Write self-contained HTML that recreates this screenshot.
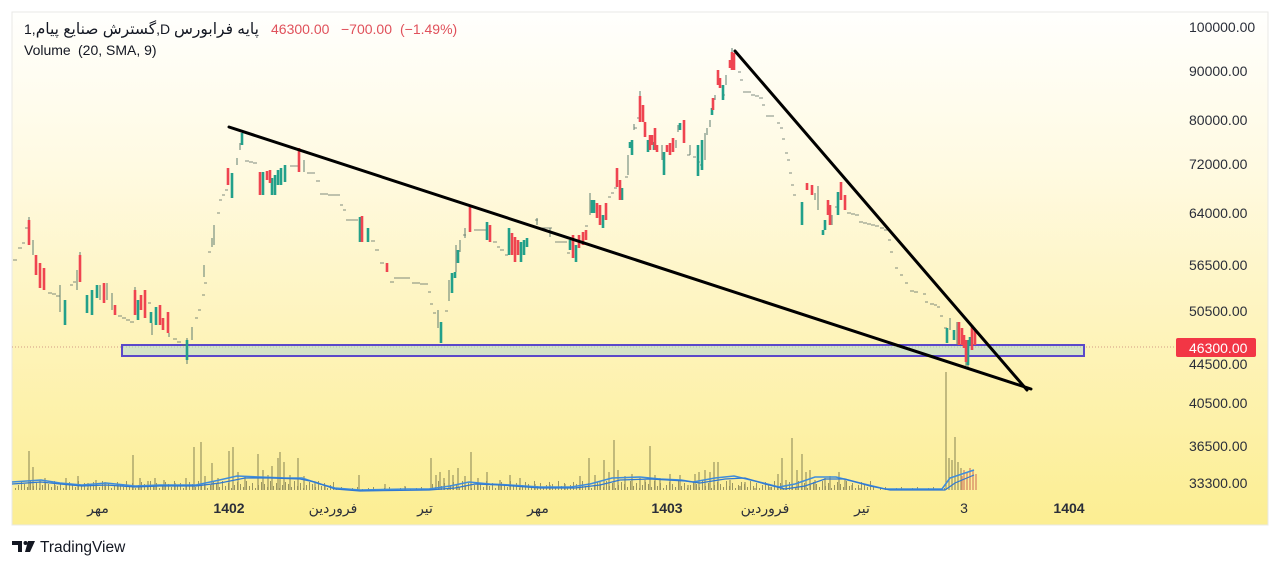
<!DOCTYPE html>
<html>
<head>
<meta charset="utf-8">
<style>
html,body{margin:0;padding:0;background:#ffffff;}
body{width:1280px;height:567px;overflow:hidden;position:relative;}
svg{position:absolute;left:0;top:0;}
text{font-family:"Liberation Sans","DejaVu Sans",sans-serif;}
</style>
</head>
<body>
<svg width="1280" height="567" viewBox="0 0 1280 567" xmlns="http://www.w3.org/2000/svg">
<defs>
<linearGradient id="bg" x1="0" y1="0" x2="0" y2="1">
<stop offset="0" stop-color="#fffffd"/>
<stop offset="0.3" stop-color="#fffae2"/>
<stop offset="0.6" stop-color="#fef4be"/>
<stop offset="1" stop-color="#fcee92"/>
</linearGradient>
<pattern id="vol" x="0" y="476" width="24" height="14" patternUnits="userSpaceOnUse">
<path d="M0.5 14V8 M3.5 14V11 M6.5 14V5 M9.5 14V10 M12.5 14V7 M15.5 14V12 M18.5 14V9 M21.5 14V6" stroke="#9a9560" stroke-width="1"/>
</pattern>
<pattern id="vol2" x="0" y="484" width="16" height="6" patternUnits="userSpaceOnUse">
<path d="M0.5 6V4 M5.5 6V3 M10.5 6V5" stroke="#9a9560" stroke-width="1"/>
</pattern>
</defs>

<!-- panel -->
<rect x="12" y="12" width="1256" height="513" fill="url(#bg)" stroke="#e8e8e6" stroke-width="1"/>

<!-- header -->
<text x="24" y="34" font-size="14" fill="#131722">1,<tspan font-size="15.5">گسترش صنایع پیام</tspan>,D <tspan font-size="15.5">پایه فرابورس</tspan></text>
<text x="271" y="34" font-size="14" fill="#e0515b">46300.00</text>
<text x="341" y="34" font-size="14" fill="#e0515b">−700.00</text>
<text x="400" y="34" font-size="14" fill="#e0515b">(−1.49%)</text>
<text x="24" y="55" font-size="14" fill="#131722">Volume</text>
<text x="78" y="55" font-size="14" fill="#131722">(20, SMA, 9)</text>

<!-- price line dotted -->
<line x1="12" y1="347" x2="1176" y2="347" stroke="#c98676" stroke-width="1" stroke-dasharray="1 2" opacity="0.8"/>

<!-- zone rectangle -->
<rect x="122" y="345" width="962" height="11" fill="#cfe1c9" fill-opacity="0.9" stroke="#5b48c9" stroke-width="2"/>
<line x1="123" y1="347" x2="1083" y2="347" stroke="#a9b8a0" stroke-width="1" stroke-dasharray="1 2" opacity="0.7"/>

<!-- volume filler -->
<rect x="14" y="476" width="320" height="14" fill="url(#vol)"/>
<rect x="430" y="476" width="445" height="14" fill="url(#vol)"/>
<rect x="334" y="484" width="96" height="6" fill="url(#vol2)"/>
<rect x="875" y="484" width="70" height="6" fill="url(#vol2)"/>

<!-- volume spikes -->
<path stroke="#9a9560" stroke-width="1.2" fill="none" d="M29 490V451 M33 490V467 M40 490V480 M45 490V478 M55 490V485 M66 490V478 M78 490V476 M88 490V483 M96 490V480 M105 490V482 M118 490V485 M133 490V455 M140 490V478 M148 490V481 M155 490V478 M164 490V480 M175 490V483 M186 490V478 M194 490V447 M201 490V442 M205 490V476 M212 490V463 M218 490V478 M229 490V451 M233 490V447 M238 490V472 M245 490V476 M258 490V454 M263 490V470 M268 490V475 M272 490V466 M278 490V458 M280 490V452 M284 490V462 M290 490V475 M298 490V458 M304 490V476 M315 490V482 M325 490V485 M359 490V475 M385 490V484 M405 490V486 M431 490V458 M436 490V475 M440 490V472 M444 490V478 M449 490V470 M453 490V475 M458 490V468 M465 490V476 M471 490V452 M478 490V478 M487 490V472 M500 490V480 M510 490V475 M520 490V478 M535 490V484 M550 490V485 M565 490V484 M580 490V476 M589 490V458 M595 490V475 M600 490V482 M604 490V460 M609 490V472 M614 490V440 M618 490V470 M625 490V476 M632 490V474 M640 490V478 M645 490V480 M650 490V446 M655 490V475 M660 490V478 M670 490V474 M680 490V475 M688 490V485 M695 490V474 M699 490V472 M705 490V470 M710 490V472 M714 490V462 M718 490V462 M730 490V480 M740 490V486 M745 490V482 M755 490V488 M770 490V487 M778 490V474 M782 490V458 M786 490V480 M792 490V438 M797 490V470 M802 490V454 M806 490V472 M810 490V470 M815 490V480 M825 490V478 M830 490V476 M839 490V472 M845 490V480 M852 490V485 M860 490V488 M946 490V372 M949 490V458 M952 490V460 M955 490V437 M958 490V462 M961 490V468"/>
<path stroke="#d98f68" stroke-width="1.4" fill="none" d="M962 490V476 M964 490V470 M967 490V472 M970 490V468 M973 490V470 M976 490V474"/>

<!-- volume MA -->
<polyline fill="none" stroke="#3f8ddb" stroke-width="1.6" points="12,482 41,480 60,483 82,485 106,483 135,486 160,485 196,485 215,481 237,476 260,477 286,478 302,478 320,484 335,488 360,490 408,489 429,489 450,486 469,482 490,484 510,485 540,487 571,487 590,484 612,478 640,477 660,479 681,480 693,482 715,478 734,476 755,481 779,487 795,484 815,477 836,477 860,483 885,489 942,489 950,478 974,470"/>
<polyline fill="none" stroke="#2f78d2" stroke-width="1.2" points="12,484 41,482 60,484 82,486 106,485 135,487 160,486 196,486 220,483 245,478 270,478 300,479 315,482 335,489 360,491 429,490 455,488 475,484 500,485 540,488 575,488 600,485 620,480 650,479 685,481 700,483 725,479 745,478 765,484 785,489 805,486 825,479 845,479 870,486 890,490 945,490 955,483 974,475"/>

<!-- dashes (doji ticks) -->
<path stroke="#5f6f66" stroke-width="1" fill="none" opacity="0.8" d="M13 260h4 M18 248h4 M22 243h3 M25 228h3 M48 293h4 M52 294h4 M56 296h4 M70 285h3 M73 282h3 M118 316h4 M122 318h4 M126 320h4 M130 322h4 M148 303h3 M173 339h4 M177 342h4 M182 345h4 M195 318h3 M198 310h3 M202 295h3 M204 283h3 M208 252h3 M217 213h3 M219 200h3 M222 195h3 M225 190h3 M245 161h4 M249 162h4 M253 163h4 M290 166h4 M294 166h4 M307 173h4 M311 173h4 M316 181h4 M320 194h4 M324 194h4 M328 195h4 M332 195h4 M336 195h4 M340 205h3 M343 210h3 M346 220h4 M350 220h4 M354 220h4 M371 241h4 M375 250h4 M380 263h4 M390 282h4 M394 278h4 M398 278h4 M402 278h4 M406 278h4 M412 283h4 M416 283h4 M420 284h4 M424 284h4 M428 292h3 M430 304h3 M433 313h3 M445 311h3 M463 235h3 M474 230h4 M478 230h4 M482 230h4 M493 242h4 M497 247h3 M500 250h4 M505 255h3 M535 220h3 M540 228h4 M544 228h4 M548 228h4 M555 242h4 M559 242h4 M563 242h4 M567 253h3 M585 226h3 M608 197h3 M611 193h3 M614 188h3 M625 177h3 M634 128h3 M637 118h3 M687 155h3 M693 157h3 M697 162h3 M700 165h3 M722 95h3 M729 63h3 M738 72h3 M740 80h3 M743 92h4 M747 92h4 M751 95h4 M755 96h4 M759 98h4 M762 105h3 M766 116h4 M770 116h4 M777 123h3 M780 128h3 M782 139h3 M785 153h3 M787 160h3 M789 173h3 M791 185h3 M793 195h3 M835 207h3 M847 213h4 M851 214h4 M855 215h4 M859 222h4 M863 223h4 M867 224h4 M871 225h4 M875 226h4 M880 228h4 M884 230h4 M888 240h3 M890 252h3 M895 268h3 M900 275h3 M905 283h3 M910 291h4 M914 292h4 M923 294h3 M925 302h3 M930 304h4 M934 305h3 M937 307h3 M940 316h3 M944 328h3"/>

<!-- wicks -->
<path stroke="#5f7d70" stroke-width="1" fill="none" d="M33 240V255 M60 285V312 M77 270V290 M100 285V300 M107 283V300 M112 293V310 M152 323V335 M187 338V364 M192 327V340 M204 265V277 M212 238V247 M214 225V245 M237 158V165 M240 143V150 M304 160V172 M438 310V328 M449 280V301 M460 240V252 M465 228V238 M537 218V225 M550 228V237 M590 193V215 M628 155V175 M634 124V130 M640 91V96 M662 145V160 M676 140V148 M678 125V132 M690 145V155 M705 133V160 M707 128V135 M710 120V127 M715 95V100 M726 75V85 M732 48V52 M815 193V200 M818 186V210 M832 215V225 M950 318V330 M957 322V345 M966 362V366 M968 365V368 M29 217V222 M80 252V256 M135 287V292 M169 333V337 M456 245V272"/>

<!-- green bodies -->
<path stroke="#22a08a" stroke-width="2.6" fill="none" d="M65 300V325 M87 295V313 M92 290V315 M97 285V298 M138 300V320 M151 312V323 M156 307V325 M187 340V360 M232 173V198 M242 133V145 M263 172V195 M272 178V195 M275 175V195 M278 170V185 M281 168V185 M285 165V182 M360 217V242 M368 228V242 M441 322V343 M452 273V293 M455 272V278 M458 250V263 M487 222V240 M509 228V255 M521 242V262 M524 240V255 M527 238V247 M570 240V250 M576 245V262 M592 200V213 M594 200V213 M603 215V228 M622 188V200 M630 142V148 M632 140V155 M648 140V152 M654 142V150 M664 152V175 M680 123V130 M698 145V176 M702 140V170 M712 108V115 M723 85V100 M802 202V225 M823 230V235 M825 220V230 M838 192V215 M947 328V343 M954 330V340 M968 340V365 M970 337V345"/>

<!-- red bodies -->
<path stroke="#ef4450" stroke-width="2.6" fill="none" d="M29 220V245 M36 255V275 M40 263V288 M44 268V290 M80 255V282 M104 283V303 M115 305V315 M135 290V315 M141 295V310 M145 290V318 M160 305V325 M163 318V330 M168 312V333 M228 168V185 M260 172V195 M267 171V180 M270 170V183 M299 148V172 M362 216V242 M387 263V272 M470 207V232 M490 225V242 M512 233V255 M515 237V262 M518 240V255 M573 235V258 M579 235V248 M583 232V245 M586 230V240 M597 203V218 M600 205V225 M606 203V220 M617 168V187 M620 180V200 M640 96V122 M643 105V122 M645 122V137 M650 135V150 M652 135V145 M655 128V150 M657 145V152 M667 145V152 M670 143V155 M673 138V152 M684 120V143 M713 98V110 M718 70V85 M720 78V88 M730 60V68 M732 52V70 M734 53V70 M807 183V190 M812 185V195 M828 200V215 M830 205V225 M841 182V200 M845 195V210 M959 322V345 M962 328V345 M964 335V348 M966 340V362 M972 325V350 M975 330V345"/>

<!-- trend lines -->
<path d="M229 127 L1031 389" stroke="#000" stroke-width="3" stroke-linecap="round" fill="none"/>
<path d="M735 51 L1027 390" stroke="#000" stroke-width="3" stroke-linecap="round" fill="none"/>

<!-- price axis -->
<g font-size="14" fill="#2a2e39">
<text x="1189" y="32">100000.00</text>
<text x="1189" y="76">90000.00</text>
<text x="1189" y="125">80000.00</text>
<text x="1189" y="169">72000.00</text>
<text x="1189" y="218">64000.00</text>
<text x="1189" y="270">56500.00</text>
<text x="1189" y="316">50500.00</text>
<text x="1189" y="369">44500.00</text>
<text x="1189" y="408">40500.00</text>
<text x="1189" y="451">36500.00</text>
<text x="1189" y="488">33300.00</text>
</g>
<rect x="1176" y="338" width="80" height="19" rx="2" fill="#f23645"/>
<text x="1189" y="353" font-size="14" fill="#ffffff">46300.00</text>

<!-- time axis -->
<g font-size="14" fill="#2a2e39" text-anchor="middle">
<text x="98" y="513">مهر</text>
<text x="229" y="513" font-weight="bold">1402</text>
<text x="333" y="513">فروردین</text>
<text x="425" y="513">تیر</text>
<text x="538" y="513">مهر</text>
<text x="667" y="513" font-weight="bold">1403</text>
<text x="765" y="513">فروردین</text>
<text x="862" y="513">تیر</text>
<text x="964" y="513">3</text>
<text x="1069" y="513" font-weight="bold">1404</text>
</g>

<!-- TradingView logo -->
<g fill="#131722">
<path d="M12 541 h10 v11 h-4 v-7 h-6 z"/>
<circle cx="25.5" cy="543" r="2"/>
<path d="M28 541 h7 l-5 11 h-5 z"/>
</g>
<text x="40" y="552" font-size="15.5" fill="#131722">TradingView</text>
</svg>
</body>
</html>
